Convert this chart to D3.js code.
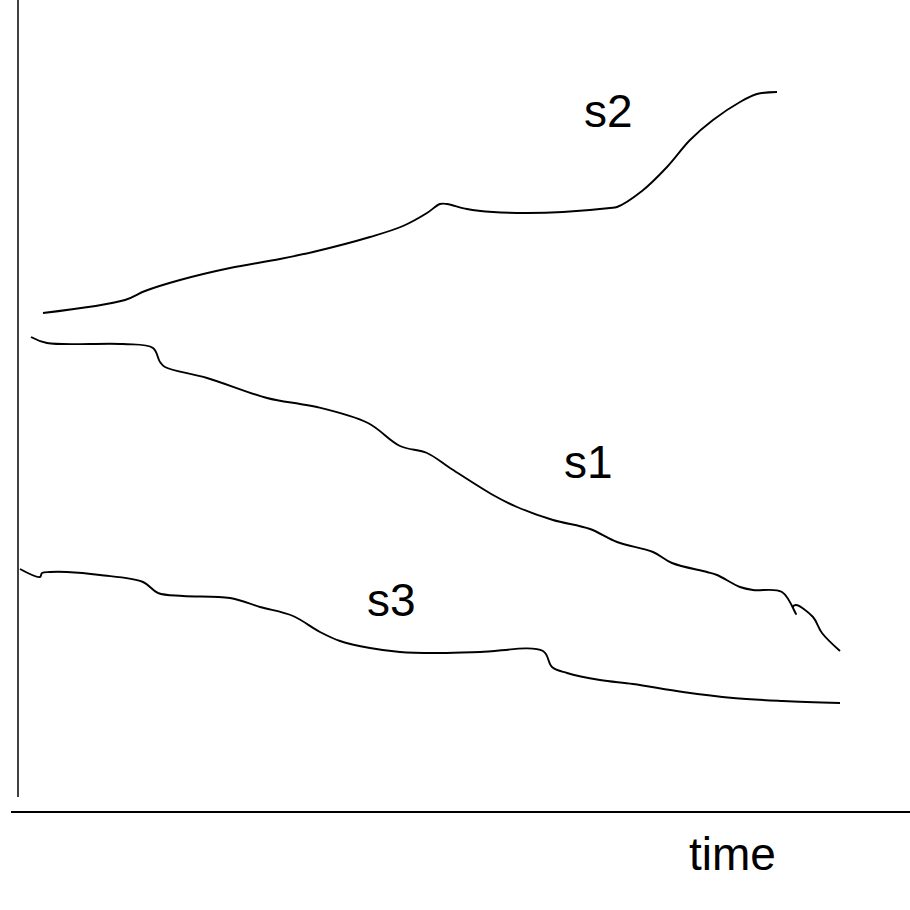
<!DOCTYPE html>
<html>
<head>
<meta charset="utf-8">
<script src="https://cdn.jsdelivr.net/npm/d3@7"></script>
<style>
  html, body { margin: 0; padding: 0; background: #fff; }
  svg { display: block; }
</style>
</head>
<body>
<div id="chart"></div>
<script>
// series values: [time, value]
var s1 = [[13,475],[29,469],[105,468],[135,464],[142,450],[147,445],[189,434],[249,414],
          [282,408],[299,405],[350,389],[382,366],[409,359],[432,344],[475,317],[499,305],
          [535,292],[572,283],[599,270],[635,260],[654,249],[689,240],[699,237],[722,225],
          [735,222],[764,220],[778,198],[775,205],[778,207],[795,195],[804,179],[822,161]];
var s2 = [[25,499],[107,512],[127,521],[162,532],[212,544],[262,553],[295,560],[352,575],
          [385,586],[409,599],[422,608],[429,608],[449,603],[475,600],[509,599],[545,600],
          [592,604],[599,605],[624,621],[649,645],[672,672],[695,692],[722,710],[739,718],[759,720]];
var s3 = [[2,243],[22,235],[24,239],[32,240],[49,240],[82,237],[125,230],[140,219],[165,216],
          [212,214],[242,205],[275,196],[302,180],[322,171],[352,164],[382,160],[417,159],
          [462,160],[525,161],[534,145],[549,139],[582,132],[615,128],[665,120],[715,114],
          [765,111],[822,109]];
var seriesNames = ['s1', 's2', 's3'];
var axisLabel = 'time';

(function() {
    var width = 910,
        height = 910;

    var svg = d3.select('#chart').append('svg')
        .attr('width', width)
        .attr('height', height);

    var x = d3.scaleLinear().domain([0, 892]).range([18, 910]),
        y = d3.scaleLinear().domain([0, 812]).range([812, 0]);

    var line = d3.line()
        .x(function(d) { return x(d[0]); })
        .y(function(d) { return y(d[1]); })
        .curve(d3.curveCatmullRom.alpha(0.5));

    // axes
    svg.append('line')
        .attr('x1', x(0)).attr('x2', x(0))
        .attr('y1', y(812)).attr('y2', y(15))
        .attr('stroke', '#000').attr('stroke-width', 1.5);

    svg.append('line')
        .attr('x1', x(-7)).attr('x2', x(892))
        .attr('y1', y(0)).attr('y2', y(0))
        .attr('stroke', '#000').attr('stroke-width', 2);

    // series
    [s1, s2, s3].forEach(function(s) {
        svg.append('path')
            .datum(s)
            .attr('fill', 'none')
            .attr('stroke', '#000')
            .attr('stroke-width', 1.9)
            .attr('stroke-linejoin', 'round')
            .attr('d', line);
    });

    // labels
    var labelPos = [[546, 334], [566, 685], [349, 196]];
    seriesNames.forEach(function(name, i) {
        svg.append('text')
            .attr('x', x(labelPos[i][0]))
            .attr('y', y(labelPos[i][1]))
            .attr('font-family', 'Liberation Sans, Arial, sans-serif')
            .attr('font-size', 46)
            .attr('fill', '#000')
            .text(name);
    });

    svg.append('text')
        .attr('x', 689)
        .attr('y', 870)
        .attr('font-family', 'Liberation Sans, Arial, sans-serif')
        .attr('font-size', 46)
        .attr('fill', '#000')
        .text(axisLabel);
}());
</script>
</body>
</html>
